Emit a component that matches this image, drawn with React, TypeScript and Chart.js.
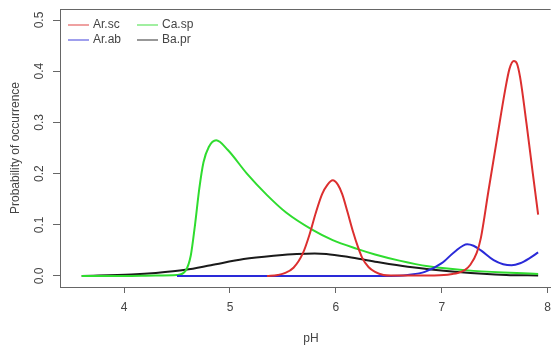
import React, { useEffect, useRef } from "react";
import { Chart, registerables } from "chart.js";

Chart.register(...registerables);

// ---- data ----
const seriesNames = ["Ar.sc", "Ar.ab", "Ca.sp", "Ba.pr"];
const seriesColors = ["#dc2f2f", "#2a2ad8", "#2fdc2f", "#1a1a1a"];

const arScPH = [5.35, 5.45, 5.51, 5.6, 5.69, 5.75, 5.81, 5.87, 5.92, 5.97, 6.02, 6.06, 6.11, 6.16, 6.21, 6.25, 6.31, 6.37, 6.45, 6.52, 6.8, 7.02, 7.1, 7.15, 7.22, 7.27, 7.33, 7.37, 7.44, 7.52, 7.6, 7.64, 7.68, 7.71, 7.74, 7.8, 7.86, 7.91];
const arScProb = [0, 0.002, 0.005, 0.016, 0.045, 0.08, 0.123, 0.16, 0.178, 0.187, 0.178, 0.16, 0.125, 0.088, 0.056, 0.035, 0.017, 0.008, 0.002, 0.001, 0.001, 0.002, 0.004, 0.006, 0.012, 0.022, 0.045, 0.075, 0.165, 0.266, 0.365, 0.405, 0.42, 0.415, 0.388, 0.298, 0.2, 0.12];

const arAbPH = [4.5, 5.5, 6.4, 6.6, 6.68, 6.84, 7.0, 7.12, 7.24, 7.3, 7.37, 7.49, 7.58, 7.66, 7.74, 7.83, 7.91];
const arAbProb = [0, 0, 0, 0.0005, 0.002, 0.008, 0.025, 0.047, 0.062, 0.059, 0.05, 0.031, 0.023, 0.021, 0.025, 0.035, 0.046];

const caSpPH = [3.6, 4.0, 4.3, 4.5, 4.58, 4.63, 4.67, 4.71, 4.75, 4.8, 4.87, 4.98, 5.16, 5.35, 5.53, 5.78, 5.97, 6.2, 6.37, 6.6, 6.87, 7.3, 7.91];
const caSpProb = [0, 0, 0.001, 0.002, 0.01, 0.04, 0.1, 0.17, 0.222, 0.252, 0.265, 0.246, 0.2, 0.158, 0.124, 0.09, 0.07, 0.053, 0.042, 0.03, 0.019, 0.01, 0.004];

const baPrPH = [3.6, 4.07, 4.3, 4.58, 4.82, 5.13, 5.44, 5.63, 5.8, 5.91, 6.12, 6.37, 6.68, 7.15, 7.61, 7.91];
const baPrProb = [0, 0.003, 0.006, 0.012, 0.021, 0.033, 0.04, 0.043, 0.044, 0.043, 0.037, 0.028, 0.018, 0.008, 0.002, 0.001];

const xTicks = [4, 5, 6, 7, 8];
const yTicks = [0, 0.1, 0.2, 0.3, 0.4, 0.5];
const xTitle = "pH";
const yTitle = "Probability of occurrence";

const seriesPH = [arScPH, arAbPH, caSpPH, baPrPH];
const seriesProb = [arScProb, arAbProb, caSpProb, baPrProb];

const FONT = "'Liberation Sans', Arial, sans-serif";
const FS = 12;
const TEXT = "#444444";
const AXIS = "#666666";

const rPlotPlugin = {
  id: "rPlot",
  afterDraw(chart: any) {
    const { ctx, chartArea } = chart;
    const y = chart.scales.y;
    ctx.save();
    // top box line
    ctx.strokeStyle = AXIS;
    ctx.lineWidth = 1;
    ctx.beginPath();
    ctx.moveTo(chartArea.left, chartArea.top + 0.5);
    ctx.lineTo(chartArea.right, chartArea.top + 0.5);
    ctx.stroke();
    // rotated y tick labels
    ctx.fillStyle = TEXT;
    ctx.font = `${FS}px ${FONT}`;
    ctx.textAlign = "center";
    ctx.textBaseline = "middle";
    y.ticks.forEach((t: any) => {
      const py = y.getPixelForValue(t.value);
      ctx.save();
      ctx.translate(40, py);
      ctx.rotate(-Math.PI / 2);
      ctx.fillText(t.value.toFixed(1), 0, 0);
      ctx.restore();
    });
    // x axis title, centred like R on the full plot region
    ctx.textAlign = "center";
    ctx.fillText(xTitle, 311, 339);
    // legend (2 columns, column-major)
    const colX = [68, 137];
    const rowY = [25, 40];
    const lineLen = 21;
    chart.data.datasets.forEach((ds: any, i: number) => {
      const col = Math.floor(i / 2);
      const row = i % 2;
      const lx = chartArea.left + colX[col] - 60;
      const ly = chartArea.top + rowY[row] - 9;
      ctx.save();
      ctx.globalAlpha = 0.45;
      ctx.strokeStyle = ds.borderColor;
      ctx.lineWidth = 2;
      ctx.beginPath();
      ctx.moveTo(lx, ly);
      ctx.lineTo(lx + lineLen, ly);
      ctx.stroke();
      ctx.restore();
      ctx.fillStyle = TEXT;
      ctx.textAlign = "left";
      ctx.textBaseline = "middle";
      ctx.fillText(ds.label, lx + lineLen + 4, ly);
    });
    ctx.restore();
  },
};

export default function App() {
  const ref = useRef<HTMLCanvasElement | null>(null);
  useEffect(() => {
    document.body.style.margin = "0";
    const canvas = ref.current!;
    const chart = new Chart(canvas, {
      type: "line",
      data: {
        datasets: seriesNames.map((name, i) => ({
          label: name,
          data: seriesPH[i].map((x, j) => ({ x, y: seriesProb[i][j] })),
          borderColor: seriesColors[i],
          backgroundColor: seriesColors[i],
          borderWidth: 2,
          pointRadius: 0,
          fill: false,
          cubicInterpolationMode: "monotone" as const,
        })),
      },
      options: {
        animation: false,
        responsive: false,
        devicePixelRatio: 1,
        layout: { padding: { top: 9, left: 0, right: 0, bottom: 0 } },
        plugins: {
          legend: { display: false },
          tooltip: { enabled: false },
        },
        scales: {
          x: {
            type: "linear",
            min: 3.395,
            max: 8.028,
            afterBuildTicks: (s: any) => {
              s.ticks = xTicks.map((v) => ({ value: v }));
            },
            afterFit: (s: any) => {
              s.height = 60;
            },
            grid: {
              display: true,
              drawOnChartArea: false,
              drawTicks: true,
              tickLength: 6,
              color: AXIS,
            },
            border: { display: true, color: AXIS, width: 1 },
            ticks: {
              color: TEXT,
              font: { family: FONT, size: FS },
              padding: 7,
              maxRotation: 0,
              callback: (v: any) => String(v),
            },
            title: { display: false, text: xTitle },
          },
          y: {
            type: "linear",
            min: -0.0215,
            max: 0.5215,
            afterBuildTicks: (s: any) => {
              s.ticks = yTicks.map((v) => ({ value: v }));
            },
            afterFit: (s: any) => {
              s.width = 60;
            },
            grid: {
              display: true,
              drawOnChartArea: false,
              drawTicks: true,
              tickLength: 7,
              color: AXIS,
            },
            border: { display: true, color: AXIS, width: 1 },
            ticks: { display: false },
            title: {
              display: true,
              text: yTitle,
              color: TEXT,
              font: { family: FONT, size: FS },
              padding: { top: 8, bottom: 0 },
            },
          },
        },
      },
      plugins: [rPlotPlugin],
    });
    return () => chart.destroy();
  }, []);
  return (
    <div style={{ position: "fixed", left: 0, top: 0, width: 558, height: 347, background: "#fff" }}>
      <canvas ref={ref} width={558} height={347} style={{ width: 558, height: 347 }} />
    </div>
  );
}
